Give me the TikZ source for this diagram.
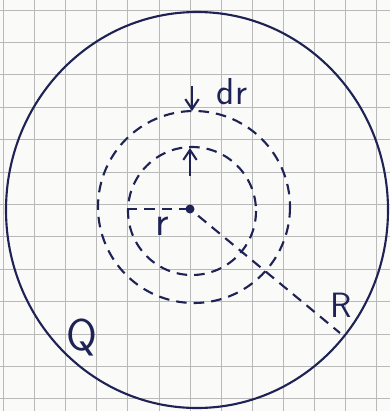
\documentclass[tikz,border=0pt]{standalone}
\usetikzlibrary{arrows.meta}
\definecolor{ink}{RGB}{30,34,84}
\definecolor{paper}{RGB}{250,250,248}
\definecolor{gridline}{RGB}{185,185,185}

\begin{document}
\begin{tikzpicture}[
  x=0.03cm, y=-0.03cm,
  inkline/.style={ink, line width=1.8pt},
  shell/.style={inkline, dash pattern=on 9pt off 6pt},
  lbl/.style={text=ink, font=\sffamily, inner sep=0pt},
  >={Straight Barb[length=3mm, width=4mm]}
]
% squared paper
\fill[paper] (0,0) rectangle (390,411);
\useasboundingbox (0,0) rectangle (390,411);
\foreach \k in {0,...,12} {
  \draw[gridline, line width=0.7pt] (3.5+31.1*\k,0) -- (3.5+31.1*\k,411);
  \draw[gridline, line width=0.7pt] (0,10+32.4*\k) -- (390,10+32.4*\k);
}

% sphere of charge Q and the two shells
\draw[inkline] (197,210) ellipse [x radius=191, y radius=198];
\draw[shell] (192,211) circle [radius=64];
\draw[shell] (194,207) circle [radius=96];

\coordinate (o) at (190,209);
\coordinate (rl) at (128,209);
\coordinate (rr) at (340,333);
\coordinate (dtop) at (192,86);
\coordinate (dbot) at (192,111);
\coordinate (ubot) at (190,176);
\coordinate (utop) at (190,148);
\fill[ink] (o) circle [radius=4.5];

\draw[shell] (o) -- (rl);
\draw[shell, shorten <=9pt] (o) -- (rr);
\draw[inkline, ->] (dtop) -- (dbot);
\draw[inkline, ->] (ubot) -- (utop);

\node[lbl, font=\sffamily\fontsize{32}{32}\selectfont] (dr) at (232,92) {dr};
\node[lbl, font=\sffamily\fontsize{36}{36}\selectfont] (r) at (162,226) {r};
\node[lbl, font=\sffamily\fontsize{30}{30}\selectfont] (R) at (341,305) {R};
\node[lbl, font=\sffamily\fontsize{38}{38}\selectfont] (Q) at (82,337) {Q};
\end{tikzpicture}
\end{document}
